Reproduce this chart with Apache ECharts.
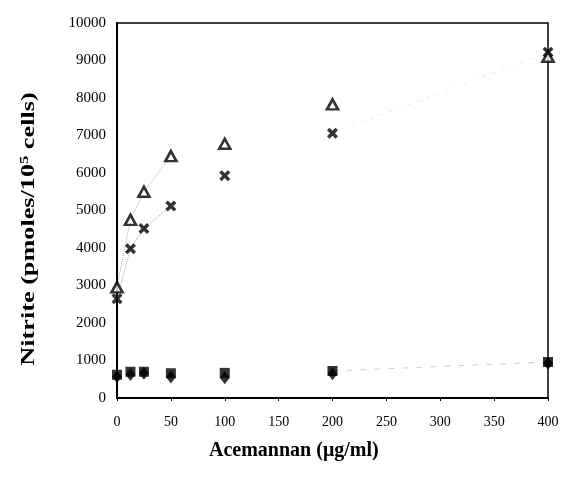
<!DOCTYPE html>
<html>
<head>
<meta charset="utf-8">
<script src="https://cdn.jsdelivr.net/npm/echarts@6/dist/echarts.min.js"></script>
<style>html,body{margin:0;padding:0;background:#fff}#c{width:562px;height:483px}</style>
</head>
<body>
<div id="c"></div>
<script>
// Acemannan concentration (µg/ml)
var doses = [0, 12.5, 25, 50, 100, 200, 400];
// Nitrite (pmoles/10^5 cells)
var triangleVals = [2950, 4750, 5500, 6450, 6780, 7830, 9100];
var crossVals    = [2650, 3980, 4520, 5120, 5930, 7060, 9220];
var squareVals   = [620, 700, 700, 660, 670, 720, 960];
var diamondVals  = [570, 630, 660, 560, 540, 650, 930];
var xTicks = [0, 50, 100, 150, 200, 250, 300, 350, 400];
var yTicks = [0, 1000, 2000, 3000, 4000, 5000, 6000, 7000, 8000, 9000, 10000];

function pairs(xs, ys) { return xs.map(function (x, i) { return [x, ys[i]]; }); }

var serif = 'Liberation Serif, Times New Roman, serif';
var crossPath = 'path://M0,2.2L2.2,0L5,2.8L7.8,0L10,2.2L7.2,5L10,7.8L7.8,10L5,7.2L2.2,10L0,7.8L2.8,5Z';

var chart = echarts.init(document.getElementById('c'));
chart.setOption({
  animation: false,
  backgroundColor: '#fff',
  grid: { left: 117, right: 14, top: 23, bottom: 85, show: true, borderColor: '#000', borderWidth: 1.5 },
  xAxis: {
    type: 'value', min: xTicks[0], max: xTicks[xTicks.length - 1], interval: 50,
    axisLine: { show: true, lineStyle: { color: '#000', width: 2 } },
    axisTick: { show: true, length: 3, lineStyle: { color: '#000' } },
    splitLine: { show: false },
    axisLabel: { color: '#000', fontFamily: serif, fontSize: 14, margin: 17,
      formatter: function (v) { return String(v); } }
  },
  yAxis: {
    type: 'value', min: yTicks[0], max: yTicks[yTicks.length - 1], interval: 1000,
    axisLine: { show: true, lineStyle: { color: '#000', width: 2 } },
    axisTick: { show: false },
    splitLine: { show: false },
    axisLabel: { color: '#000', fontFamily: serif, fontSize: 15, margin: 11,
      formatter: function (v) { return String(v); } }
  },
  graphic: [
    { type: 'text', left: 209, top: 441,
      style: { text: 'Acemannan (μg/ml)', font: 'bold 20px ' + serif, fill: '#000' } },
    { type: 'text', x: 29, y: 229, rotation: Math.PI / 2, scaleX: 1.38, scaleY: 1,
      style: {
        text: '{m|Nitrite (pmoles/10}{s|5}{m| cells)}',
        align: 'center', verticalAlign: 'middle',
        rich: {
          m: { font: 'bold 19px ' + serif, fill: '#000', lineHeight: 20 },
          s: { font: 'bold 12px ' + serif, fill: '#000', verticalAlign: 'top', lineHeight: 20 }
        }
      } }
  ],
  series: [
    { type: 'line', data: pairs(doses, triangleVals).slice(0, 4), symbol: 'none', silent: true,
      lineStyle: { color: '#aaa', width: 1, type: 'dotted' }, z: 1 },
    { type: 'line', data: pairs(doses, crossVals).slice(0, 4), symbol: 'none', silent: true,
      lineStyle: { color: '#aaa', width: 1, type: 'dotted' }, z: 1 },
    { type: 'line', data: pairs(doses, crossVals).slice(5, 7), symbol: 'none', silent: true,
      lineStyle: { color: '#ececec', width: 1, type: [4, 6] }, z: 1 },
    { type: 'line', data: pairs(doses, squareVals).slice(5, 7), symbol: 'none', silent: true,
      lineStyle: { color: '#d0d0d0', width: 1, type: [6, 8] }, z: 1 },
    { type: 'scatter', data: pairs(doses, diamondVals), symbol: 'diamond', symbolSize: [10, 13],
      itemStyle: { color: '#000' }, z: 3 },
    { type: 'scatter', data: pairs(doses, squareVals), symbol: 'rect', symbolSize: 10,
      itemStyle: { color: '#000' }, z: 3 },
    { type: 'scatter', data: pairs(doses, crossVals), symbol: crossPath, symbolSize: [11, 11],
      itemStyle: { color: '#000' }, z: 4 },
    { type: 'scatter', data: pairs(doses, triangleVals), symbol: 'triangle', symbolSize: [11, 10],
      itemStyle: { color: '#fff', borderColor: '#000', borderWidth: 2.6 }, z: 5 }
  ]
});
</script>
</body>
</html>
